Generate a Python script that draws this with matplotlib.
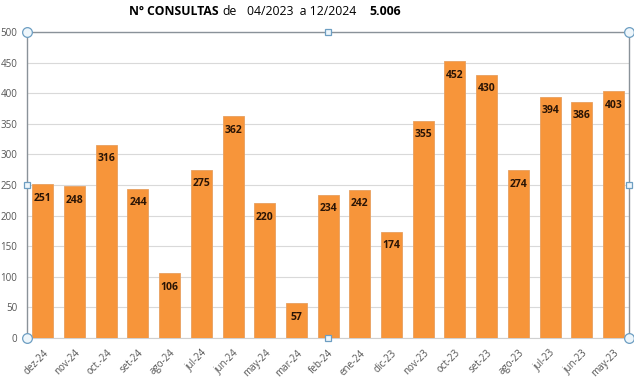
import matplotlib
matplotlib.use("Agg")
import matplotlib.pyplot as plt

months = ["dez-24", "nov-24", "oct.-24", "set-24", "ago-24", "jul-24", "jun-24",
          "may-24", "mar-24", "feb-24", "ene-24", "dic-23", "nov-23", "oct-23",
          "set-23", "ago-23", "jul-23", "jun-23", "may-23"]
consultas = [251, 248, 316, 244, 106, 275, 362, 220, 57, 234, 242, 174, 355,
             452, 430, 274, 394, 386, 403]
yticks = list(range(0, 501, 50))

plt.rcParams["font.family"] = ["Open Sans", "DejaVu Sans"]

fig = plt.figure(figsize=(6.34, 3.89), dpi=100)
ax = fig.add_axes([0.0426, 0.131, 0.950, 0.787])

x = range(len(months))
bars = ax.bar(x, consultas, width=0.66, color="#F7953A", edgecolor="#E8A060",
              linewidth=0.6, zorder=3)

# value labels just inside the top of each bar
for b, v in zip(bars, consultas):
    ax.annotate(str(v), (b.get_x() + b.get_width() / 2, v), xytext=(0, -10),
                textcoords="offset points", ha="center", va="center",
                fontsize=7.5, fontweight="bold", color="#2a1405", zorder=4)

ax.set_xlim(-0.5, len(months) - 0.5)
ax.set_ylim(0, 500)
ax.set_yticks(yticks)
ax.set_xticks(list(x))
ax.set_xticklabels(months, rotation=45, ha="right", rotation_mode="anchor")
ax.tick_params(axis="both", labelsize=7, colors="#555555", length=0)
ax.tick_params(axis="x", pad=7)
ax.tick_params(axis="y", pad=7)
ax.grid(axis="y", color="#d9d9d9", linewidth=0.8, zorder=0)

for side in ["left", "top", "right"]:
    ax.spines[side].set_color("#8a9299")
    ax.spines[side].set_linewidth(1.0)
ax.spines["bottom"].set_color("#d0d0d0")

# selection handles around the plot area
hx = [-0.5, 9, len(months) - 0.5]
hy = [0, 250, 500]
for i, px in enumerate(hx):
    for j, py in enumerate(hy):
        if i == 1 and j == 1:
            continue
        corner = i != 1 and j != 1
        ax.plot(px, py, marker="o" if corner else "s", ms=7 if corner else 5,
                mfc="#eef6fb", mec="#6d9ec2", mew=0.9, clip_on=False, zorder=5)

# title pieces, mixed weights, laid out left to right
pieces = [("Nº CONSULTAS", "bold", 0), ("de", "normal", 4),
          ("04/2023  a 12/2024", "normal", 10), ("5.006", "bold", 13)]
ty = 0.970
texts = [fig.text(0, ty, s, fontsize=8.8, fontweight=w, va="center")
         for s, w, _ in pieces]
fig.canvas.draw()
r = fig.canvas.get_renderer()
widths = [t.get_window_extent(r).width for t in texts]
total = sum(widths) + sum(g for _, _, g in pieces)
cur = 265 - total / 2
for t, w, (_, _, g) in zip(texts, widths, pieces):
    cur += g
    t.set_x(cur / 634)
    cur += w

fig.savefig("out.png", dpi=100)
